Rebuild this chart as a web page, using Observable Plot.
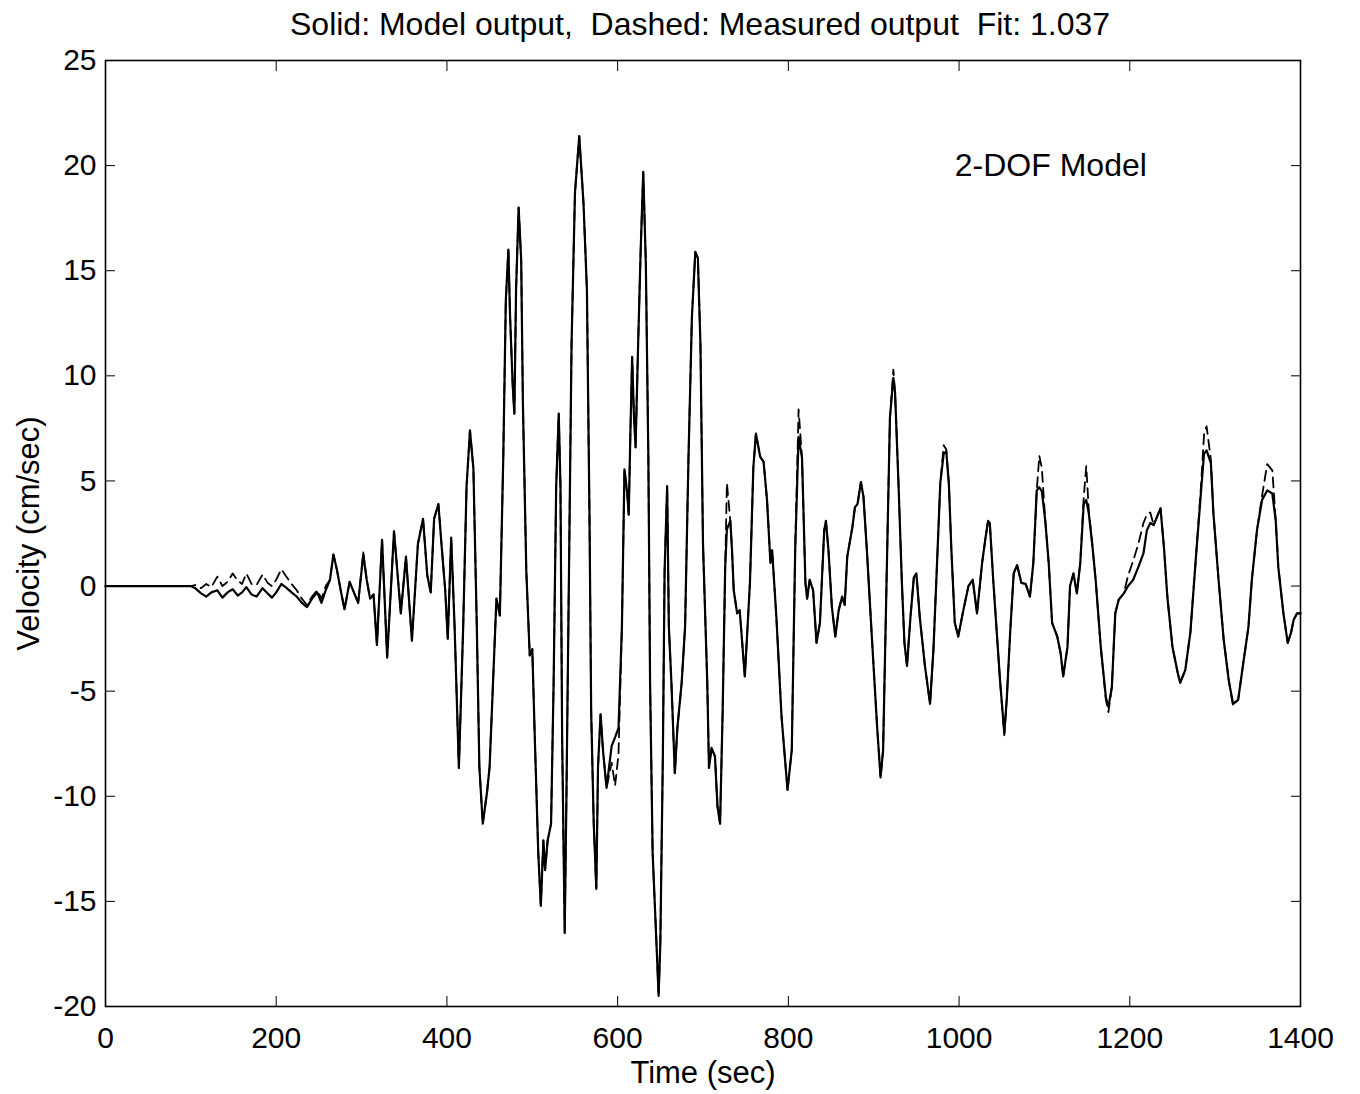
<!DOCTYPE html>
<html><head><meta charset="utf-8">
<script src="https://cdn.jsdelivr.net/npm/d3@7"></script>
<script src="https://cdn.jsdelivr.net/npm/@observablehq/plot@0.6"></script>
<style>body{margin:0;background:#fff;} #chart{width:1360px;height:1094px;}</style>
</head><body><div id="chart"></div>
<script>
const titleText = "Solid: Model output,  Dashed: Measured output  Fit: 1.037";
const xLabel = "Time (sec)";
const yLabel = "Velocity (cm/sec)";
const annotations = [{label: "2-DOF Model", t: 995, v: 20}];
const xTicks = [0, 200, 400, 600, 800, 1000, 1200, 1400];
const yTicks = [-20, -15, -10, -5, 0, 5, 10, 15, 20, 25];

const time = [
  0, 50, 100, 105, 112, 118, 124, 131, 137, 143,
  149, 155, 160, 165, 171, 177, 184, 190, 195, 200,
  206, 211, 218, 224, 230, 236, 242, 248, 253, 258,
  263, 267, 271, 276, 280, 286, 291, 296, 302, 306,
  310, 314, 318, 324, 330, 338, 346, 352, 359, 366,
  372, 377, 381, 385, 390, 394, 398, 401, 405, 409,
  414, 419, 423, 427, 431, 435, 438, 442, 447, 450,
  454, 458, 462, 466, 469, 472, 474, 477, 479, 481,
  484, 487, 489, 493, 497, 500, 503, 507, 510, 513,
  515, 518, 522, 525, 528, 531, 533, 535, 538, 540,
  543, 546, 550, 555, 558, 560, 564, 567, 569, 572,
  575, 577, 580, 583, 587, 593, 597, 601, 605, 608,
  611, 613, 615, 617, 619, 621, 624, 627, 630, 633,
  636, 638, 641, 646, 648, 650, 653, 655, 658, 660,
  663, 667, 670, 675, 679, 683, 687, 691, 694, 697,
  700, 705, 707, 710, 714, 717, 720, 723, 726, 728,
  732, 734, 736, 740, 743, 749, 755, 759, 762, 767,
  771, 775, 779, 781, 786, 792, 799, 804, 808, 812,
  816, 820, 822, 825, 829, 833, 837, 842, 844, 847,
  851, 855, 859, 863, 866, 869, 875, 878, 881, 885,
  888, 892, 898, 904, 908, 911, 915, 919, 923, 925,
  929, 933, 936, 939, 943, 947, 950, 954, 960, 966,
  970, 974, 978, 982, 985, 988, 991, 995, 999, 1005,
  1011, 1016, 1021, 1027, 1031, 1034, 1036, 1040, 1044, 1048,
  1053, 1056, 1060, 1064, 1068, 1073, 1078, 1083, 1087, 1091,
  1094, 1097, 1101, 1105, 1109, 1115, 1119, 1122, 1127, 1130,
  1134, 1138, 1142, 1146, 1149, 1152, 1156, 1160, 1166, 1172,
  1175, 1179, 1183, 1187, 1193, 1198, 1204, 1210, 1216, 1220,
  1224, 1228, 1232, 1236, 1240, 1244, 1250, 1256, 1259, 1265,
  1271, 1277, 1283, 1287, 1290, 1295, 1298, 1304, 1310, 1316,
  1321, 1327, 1333, 1339, 1343, 1349, 1355, 1361, 1367, 1371,
  1374, 1380, 1385, 1389, 1392, 1396, 1400
];

const model = [
  0, 0, 0, -0.1, -0.35, -0.5, -0.3, -0.2, -0.55, -0.3,
  -0.15, -0.45, -0.3, -0.05, -0.4, -0.5, -0.1, -0.35, -0.55, -0.3,
  0.1, -0.05, -0.3, -0.5, -0.8, -1.0, -0.6, -0.3, -0.8, -0.2,
  0.3, 1.5, 0.8, -0.3, -1.1, 0.2, -0.3, -0.8, 1.5, 0.3,
  -0.6, -0.4, -2.8, 2.2, -3.4, 2.6, -1.3, 1.4, -2.6, 2.0,
  3.2, 0.5, -0.3, 3.2, 3.9, 1.8, -0.2, -2.5, 2.3, -1.95,
  -8.65, -2.0, 4.75, 7.4, 5.6, -1.9, -8.6, -11.3, -9.8, -8.6,
  -4.6, -0.6, -1.4, 6.1, 13.6, 16.0, 12.8, 9.6, 8.2, 14.1,
  18.0, 15.5, 8.7, 0.7, -3.3, -3.0, -7.3, -12.7, -15.2, -12.1,
  -13.5, -12.1, -11.3, -4.6, 4.75, 8.2, 4.75, -7.3, -16.5, -10.0,
  0.7, 11.5, 18.7, 21.4, 19.5, 18.2, 14.1, 3.4, -6.0, -11.3,
  -14.4, -8.6, -6.1, -7.9, -9.6, -7.6, -7.2, -6.75, -1.95, 5.55,
  4.5, 3.4, 7.4, 10.9, 8.2, 6.6, 11.5, 16.0, 19.7, 15.4,
  6.1, -4.6, -12.7, -17.5, -19.5, -17.0, -8.0, 0.7, 4.75, -1.95,
  -4.6, -8.9, -6.75, -4.6, -1.95, 6.1, 12.8, 15.9, 15.6, 11.5,
  2.0, -4.6, -8.65, -7.7, -8.1, -10.5, -11.3, -6.0, 0.9, 2.7,
  3.1, 1.7, -0.2, -1.3, -1.15, -4.3, 0.15, 5.65, 7.25, 6.15,
  5.9, 4.1, 1.1, 1.7, -1.5, -6.2, -9.7, -7.8, 1.7, 7.1,
  6.1, 0.15, -0.6, 0.3, -0.2, -2.7, -1.75, 2.65, 3.1, 1.7,
  -1.0, -2.4, -1.15, -0.5, -0.9, 1.4, 2.8, 3.75, 3.9, 4.95,
  4.25, 1.7, -2.55, -6.7, -9.1, -7.8, 0.15, 8.0, 9.9, 9.2,
  4.9, 0.15, -2.7, -3.8, -1.5, 0.4, 0.6, -1.5, -3.8, -5.6,
  -3.0, 0.9, 4.9, 6.3, 6.4, 4.9, 1.7, -1.75, -2.4, -1.15,
  0.0, 0.3, -1.3, 1.1, 2.3, 3.1, 3.0, 0.3, -2.1, -4.5,
  -7.0, -5.3, -2.1, 0.6, 1.0, 0.15, 0.1, -0.5, 1.1, 4.55,
  4.7, 4.5, 3.1, 1.1, -1.75, -2.4, -3.2, -4.3, -2.9, 0.0,
  0.6, -0.35, 1.1, 3.9, 4.1, 3.45, 2.0, 0.3, -2.9, -5.3,
  -5.75, -4.8, -1.3, -0.65, -0.35, 0.0, 0.3, 0.9, 1.55, 2.65,
  3.0, 2.9, 3.3, 3.7, 1.85, -0.5, -2.9, -4.1, -4.6, -4.0,
  -2.2, 1.1, 4.25, 6.3, 6.45, 5.85, 3.45, 0.3, -2.55, -4.5,
  -5.6, -5.4, -3.65, -1.95, 0.3, 2.65, 4.1, 4.55, 4.4, 3.1,
  0.9, -1.3, -2.7, -2.2, -1.6, -1.3, -1.3
];

const measured = [
  0, 0, 0, 0.05, -0.1, 0.1, -0.05, 0.45, 0.0, 0.2,
  0.6, 0.25, 0.1, 0.6, 0.1, 0.05, 0.55, 0.15, 0.0, 0.3,
  0.8, 0.5, 0.1, -0.2, -0.6, -0.9, -0.5, -0.2, -0.6, 0.0,
  0.3, 1.5, 0.8, -0.3, -1.1, 0.2, -0.3, -0.8, 1.6, 0.3,
  -0.6, -0.4, -2.8, 2.2, -3.4, 2.6, -1.3, 1.4, -2.6, 2.0,
  3.2, 0.5, -0.3, 3.2, 3.9, 1.8, -0.2, -2.5, 2.3, -1.95,
  -8.65, -2.0, 4.75, 7.4, 5.6, -1.9, -8.6, -11.3, -9.8, -8.6,
  -4.6, -0.6, -1.4, 6.1, 13.6, 16.0, 12.8, 9.6, 8.2, 14.1,
  18.0, 15.5, 8.7, 0.7, -3.3, -3.0, -7.3, -12.7, -15.2, -12.1,
  -13.5, -12.1, -11.3, -4.6, 4.75, 8.2, 4.75, -7.3, -16.5, -10.0,
  0.7, 11.5, 18.7, 21.4, 19.5, 18.2, 14.1, 3.4, -6.0, -11.3,
  -14.4, -8.6, -6.1, -7.9, -9.6, -8.4, -9.5, -8.0, -1.95, 5.55,
  4.5, 3.4, 7.4, 10.9, 8.2, 6.6, 11.5, 16.0, 19.7, 15.4,
  6.1, -4.6, -12.7, -17.5, -19.5, -17.0, -8.0, 0.7, 4.75, -1.95,
  -4.6, -8.9, -6.75, -4.6, -1.95, 6.1, 12.8, 15.9, 15.6, 11.5,
  2.0, -4.6, -8.65, -7.7, -8.1, -10.5, -11.3, -6.0, 0.9, 4.9,
  3.1, 1.7, -0.2, -1.3, -1.15, -4.3, 0.15, 5.65, 7.25, 6.15,
  5.9, 4.1, 1.1, 1.7, -1.5, -6.2, -9.7, -7.8, 1.7, 8.4,
  6.1, 0.15, -0.6, 0.3, -0.2, -2.7, -1.75, 2.65, 3.1, 1.7,
  -1.0, -2.4, -1.15, -0.5, -0.9, 1.4, 2.8, 3.75, 3.9, 4.95,
  4.25, 1.7, -2.55, -6.7, -9.1, -7.8, 0.15, 8.0, 10.3, 9.2,
  4.9, 0.15, -2.7, -3.8, -1.5, 0.4, 0.6, -1.5, -3.8, -5.6,
  -3.0, 0.9, 4.9, 6.7, 6.5, 4.9, 1.7, -1.75, -2.4, -1.15,
  0.0, 0.3, -1.3, 1.1, 2.3, 3.1, 3.0, 0.3, -2.1, -4.5,
  -7.1, -5.3, -2.1, 0.6, 1.0, 0.15, 0.1, -0.5, 1.1, 4.55,
  6.2, 5.6, 3.1, 1.1, -1.75, -2.4, -3.2, -4.3, -2.9, 0.0,
  0.6, -0.35, 1.1, 4.2, 5.7, 3.6, 2.0, 0.3, -2.9, -5.4,
  -6.0, -4.8, -1.3, -0.65, -0.35, 0.5, 1.2, 2.0, 3.0, 3.4,
  3.5, 2.9, 3.3, 3.7, 1.85, -0.5, -2.9, -4.1, -4.6, -4.0,
  -2.2, 1.1, 4.5, 7.2, 7.6, 6.0, 3.45, 0.3, -2.55, -4.5,
  -5.7, -5.4, -3.65, -1.95, 0.3, 2.65, 4.3, 5.8, 5.5, 3.1,
  0.9, -1.3, -2.7, -2.2, -1.6, -1.3, -1.3
];

const rows = time.map((t, i) => ({t, model: model[i], measured: measured[i]}));
const font = "'Liberation Sans', Arial, Helvetica, sans-serif";
const plain = d => String(d);

const chart = Plot.plot({
  width: 1360,
  height: 1094,
  marginLeft: 105,
  marginRight: 60,
  marginTop: 60,
  marginBottom: 88,
  style: {fontFamily: font, background: "white", color: "black"},
  x: {domain: [0, 1400]},
  y: {domain: [-20, 25]},
  marks: [
    Plot.line(rows, {x: "t", y: "measured", stroke: "black", strokeWidth: 1.8, strokeDasharray: "10,6"}),
    Plot.line(rows, {x: "t", y: "model", stroke: "black", strokeWidth: 2.2, strokeLinejoin: "round"}),
    Plot.frame({stroke: "black", strokeWidth: 1.6}),
    Plot.axisX(xTicks, {anchor: "bottom", tickSize: -10, tickPadding: 30, fontSize: 30, tickFormat: plain, label: null}),
    Plot.axisX(xTicks, {anchor: "top", tickSize: -10, fill: "none", label: null}),
    Plot.axisY(yTicks, {anchor: "left", tickSize: -10, tickPadding: 19, fontSize: 30, tickFormat: plain, label: null}),
    Plot.axisY(yTicks, {anchor: "right", tickSize: -10, fill: "none", label: null}),
    Plot.text([titleText], {frameAnchor: "top", lineAnchor: "middle", dy: -36, dx: -3, fontSize: 32, text: d => d, fill: "black"}),
    Plot.text([xLabel], {frameAnchor: "bottom", lineAnchor: "middle", dy: 67, fontSize: 31, text: d => d, fill: "black"}),
    Plot.text([yLabel], {frameAnchor: "left", textAnchor: "middle", lineAnchor: "middle", dx: -76, rotate: -90, fontSize: 31, text: d => d, fill: "black"}),
    Plot.text(annotations, {x: "t", y: "v", text: "label", textAnchor: "start", fontSize: 32, fill: "black"})
  ]
});
document.getElementById("chart").appendChild(chart);
</script>
</body></html>
